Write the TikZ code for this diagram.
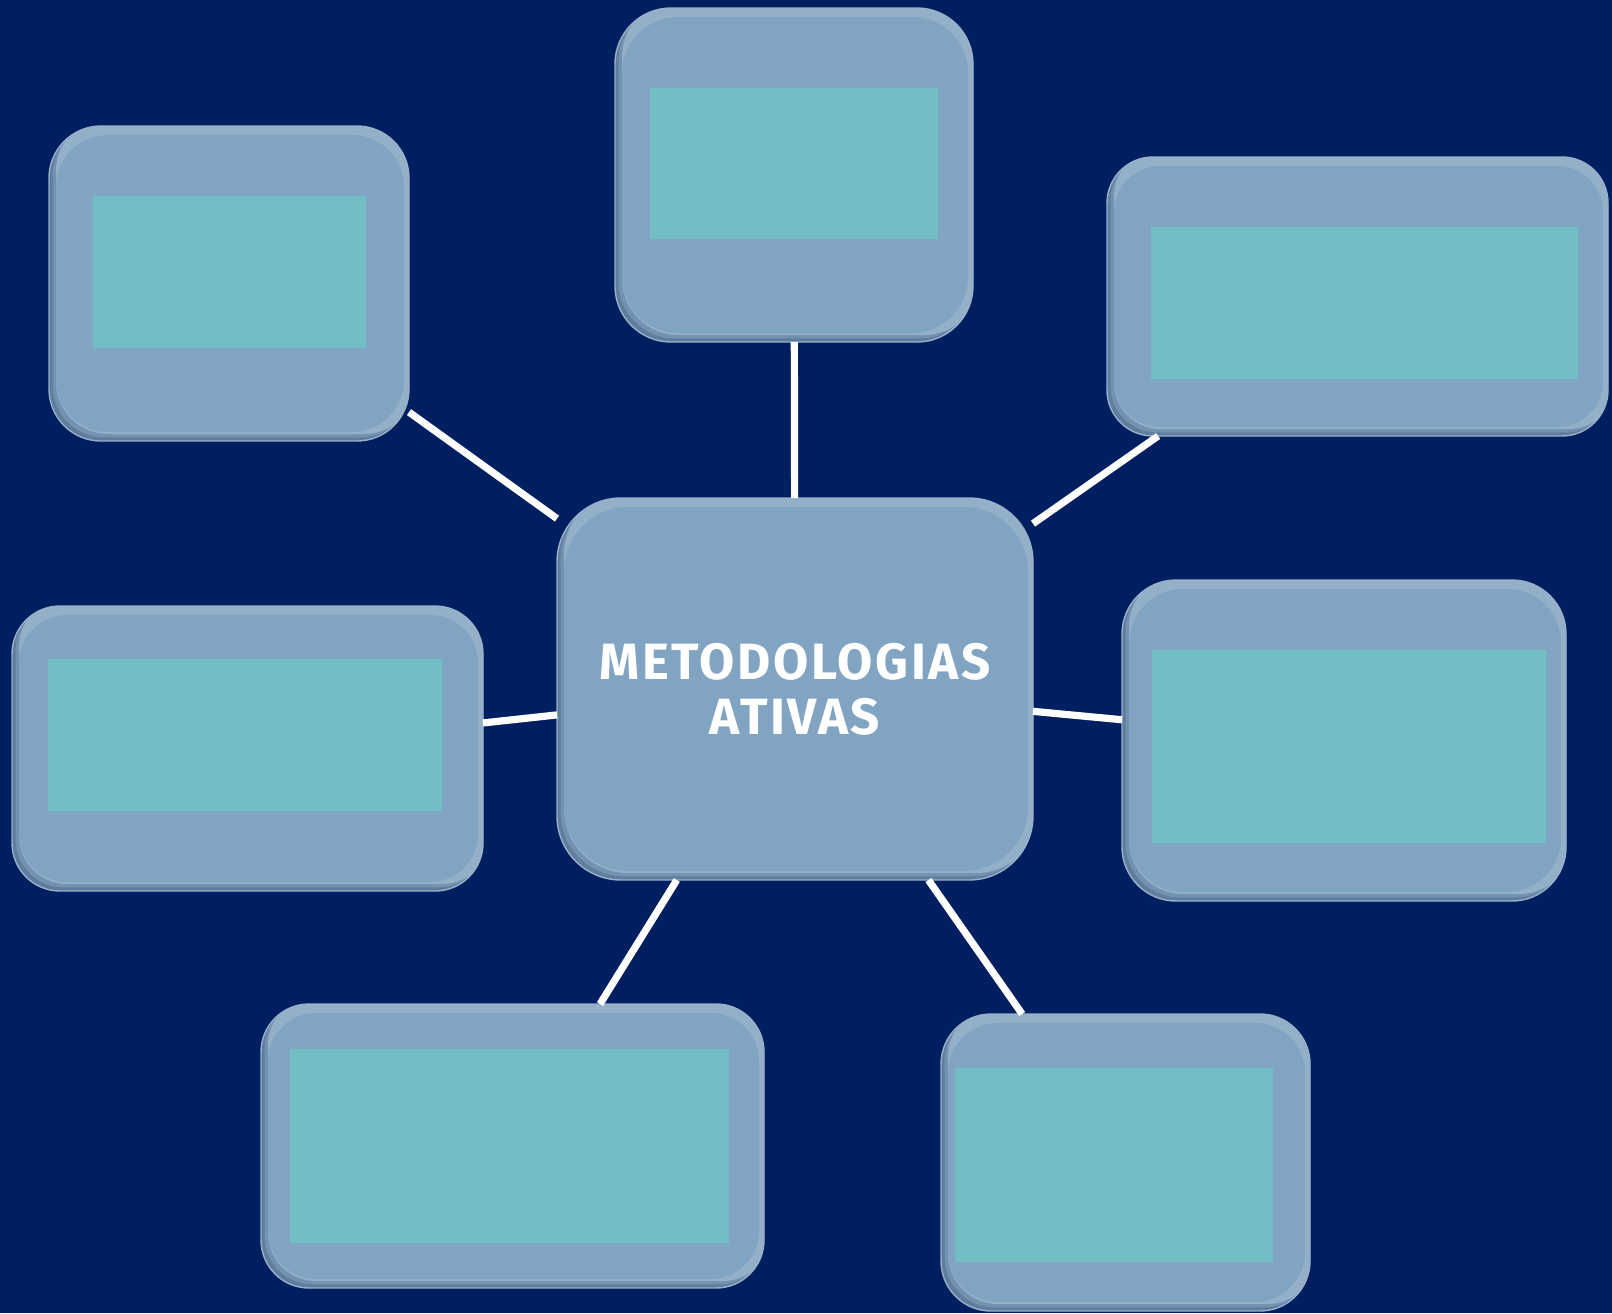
\documentclass[tikz,border=0pt]{standalone}
\usepackage{fontspec}
\newfontfamily\titlefont{Fira Sans}[LetterSpace=5]
\definecolor{bgcol}{HTML}{001F60}
\definecolor{mainfill}{HTML}{82A4C3}
\definecolor{darkedge}{HTML}{5F7D9C}
\definecolor{midedge}{HTML}{7392B2}
\definecolor{lightedge}{HTML}{93B0C8}
\definecolor{edgecol}{HTML}{98B0C9}
\definecolor{tealcol}{HTML}{73BEC5}
\tikzset{
  bevel/.style={rounded corners=#1, draw=edgecol, line width=0.7pt, fill=darkedge,
    inner sep=0pt, outer sep=0pt,
    path picture={
      \fill[midedge, rounded corners=#1]
        ([shift={(1.8pt,1.8pt)}]path picture bounding box.south west) rectangle
        ([shift={(1.8pt,1.8pt)}]path picture bounding box.north east);
      \fill[lightedge, rounded corners=#1]
        ([shift={(3.5pt,3.5pt)}]path picture bounding box.south west) rectangle
        ([shift={(3.5pt,3.5pt)}]path picture bounding box.north east);
      \fill[mainfill, rounded corners=#1]
        ([shift={(3.5pt,4.5pt)}]path picture bounding box.south west) rectangle
        ([shift={(-2.5pt,-4.5pt)}]path picture bounding box.north east);
    }},
  conn/.style={draw=white, line width=3.6pt},
  tealbox/.style={fill=tealcol},
  title/.style={text=white, align=center, font=\titlefont\bfseries\fontsize{25.5}{27.5}\selectfont},
}
% name, x1, y1, x2, y2, radius (pt), text
\newcommand\bevbox[7]{%
  \node[bevel=#6, minimum width={(#4-#2)*0.5pt}, minimum height={(#5-#3)*0.5pt}]
    (#1) at ({(#2+#4)/2},{(#3+#5)/2}) {#7};}
\begin{document}
\begin{tikzpicture}[x=0.5pt, y=-0.5pt]
\fill[bgcol] (0,0) rectangle (1612,1313);
\useasboundingbox (0,0) rectangle (1612,1313);

\bevbox{top}{615}{8}{973}{342}{28pt}{}
\bevbox{tl}{49}{126}{409}{441}{26pt}{}
\bevbox{tr}{1107}{157}{1608}{436}{23pt}{}
\bevbox{ml}{12}{606}{483}{891}{24pt}{}
\bevbox{mr}{1122}{580}{1566}{901}{27pt}{}
\bevbox{bl}{261}{1004}{764}{1288}{24pt}{}
\bevbox{br}{941}{1014}{1310}{1311}{25pt}{}
\bevbox{c}{557}{498}{1033}{880}{32pt}{\phantom{X}}
\node[title] (ctext) at (c.center) {METODOLOGIAS\\ATIVAS};

\fill[tealbox] (650,88) rectangle (938,239);
\fill[tealbox] (93,196) rectangle (366,348);
\fill[tealbox] (1151,227) rectangle (1578,379);
\fill[tealbox] (48,659) rectangle (442,811);
\fill[tealbox] (1152,650) rectangle (1546,843);
\fill[tealbox] (290,1049) rectangle (729,1243);
\fill[tealbox] (955,1068) rectangle (1273,1262);

\draw[conn] (c) -- (top);
\draw[conn] (c) -- (tl);
\draw[conn] (c) -- (tr);
\draw[conn] (c) -- (ml);
\draw[conn] (c) -- (mr);
\draw[conn] (c) -- (bl);
\draw[conn] (c) -- (br);
\end{tikzpicture}
\end{document}
